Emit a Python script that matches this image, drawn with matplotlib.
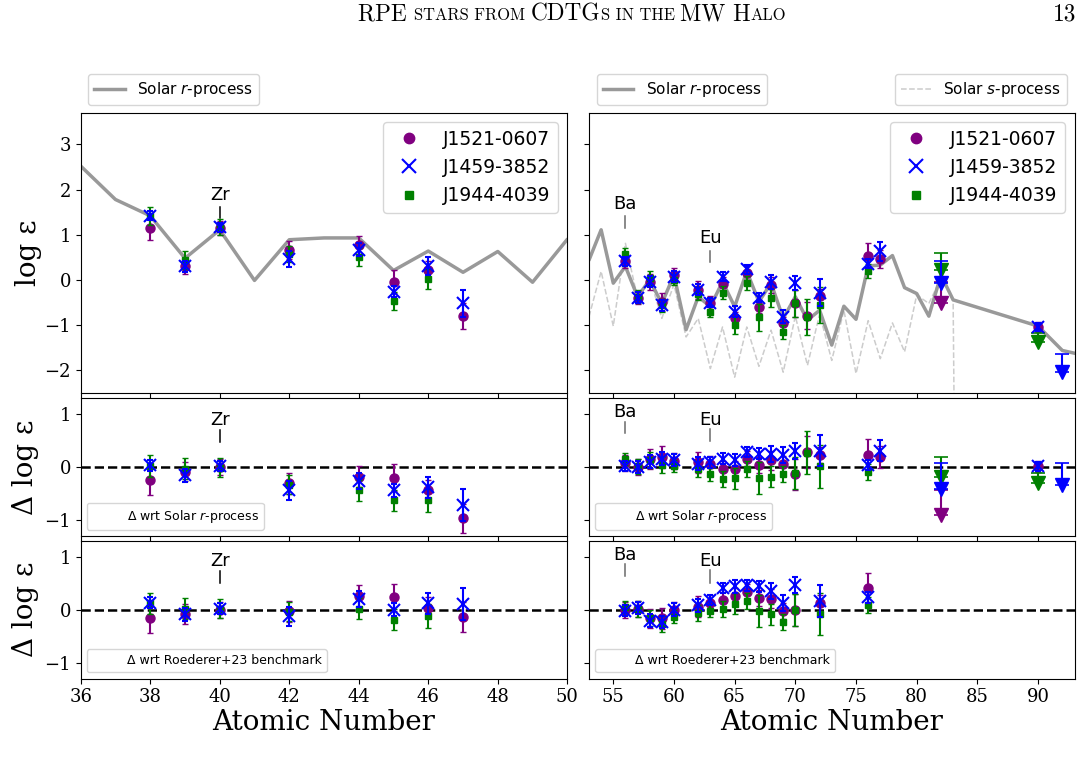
import matplotlib
matplotlib.use('Agg')
import matplotlib.pyplot as plt
import numpy as np
from matplotlib.lines import Line2D
from matplotlib.offsetbox import TextArea, HPacker, AnchoredOffsetbox

# ---------------- data ----------------
solar_r_Z = [36, 37, 38, 39, 40, 41, 42, 43, 44, 45, 46, 47, 48, 49, 50,
             53, 54, 55, 56, 57, 58, 59, 60, 61, 62, 63, 64, 65, 66, 67, 68,
             69, 70, 71, 72, 73, 74, 75, 76, 77, 78, 79, 80, 81, 82, 83, 90, 92, 94]
solar_r = [2.52, 1.78, 1.42, 0.48, 1.11, -0.01, 0.89, 0.93, 0.93, 0.21, 0.64, 0.17, 0.63, -0.05, 0.90,
           0.44, 1.11, -0.07, 0.30, -0.37, 0.00, -0.52, 0.11, -1.10, -0.37, -0.59, -0.04, -0.59, 0.19,
           -0.48, -0.07, -0.85, -0.37, -0.89, -0.67, -1.44, -0.58, -0.87, 0.31, 0.33, 0.54, -0.17,
           -0.30, -0.80, 0.11, -0.44, -1.02, -1.56, -1.68]

solar_s_Z = [53, 54, 55, 56, 57, 58, 59, 60, 61, 62, 63, 64, 65, 66, 67, 68, 69, 70, 71, 72,
             73, 74, 75, 76, 77, 78, 79, 80, 81, 82, 83, 84]
solar_s = [-0.81, 0.19, -1.02, 0.81, -0.40, 0.05, -0.85, -0.10, -1.26, -0.85, -1.96, -1.04, -2.15,
           -1.04, -1.91, -1.11, -2.04, -0.80, -1.89, -0.75, -1.78, -0.67, -2.07, -0.90, -1.74,
           -0.95, -1.59, -0.33, -0.52, 0.04, -0.45, -30.0]

star_names = ['J1521-0607', 'J1459-3852', 'J1944-4039']

# J1521-0607
s1_Z = [38, 39, 40, 42, 44, 45, 46, 47, 56, 57, 58, 59, 60, 62, 63, 64, 65, 66, 67, 68, 69, 70, 71, 72, 76, 77, 90]
s1_err = [0.27, 0.18, 0.15, 0.20, 0.20, 0.25, 0.20, 0.28, 0.15, 0.15, 0.18, 0.20, 0.15, 0.20, 0.15, 0.15,
          0.15, 0.15, 0.15, 0.18, 0.15, 0.30, 0.30, 0.15, 0.30, 0.20, 0.10]
s1_logeps = [1.15, 0.31, 1.15, 0.67, 0.78, -0.04, 0.21, -0.80, 0.41, -0.39, -0.04, -0.48, 0.11, -0.22, -0.50,
             -0.09, -0.85, 0.15, -0.59, -0.11, -0.96, -0.52, -0.79, -0.36, 0.52, 0.47, -1.04]
s1_dr = [-0.25, -0.09, 0.00, -0.31, -0.18, -0.20, -0.44, -0.97, 0.08, 0.00, 0.15, 0.19, 0.11, 0.09, 0.06,
         -0.03, -0.04, 0.16, 0.04, 0.13, 0.06, -0.14, 0.28, 0.22, 0.23, 0.19, 0.01]
s1_bZ = [38, 39, 40, 42, 44, 45, 46, 47, 56, 57, 58, 59, 60, 62, 63, 64, 65, 66, 67, 68, 69, 70, 72, 76]
s1_db = [-0.16, -0.08, 0.00, -0.03, 0.26, 0.23, 0.04, -0.14, 0.00, 0.02, -0.16, -0.16, 0.00, 0.06, 0.13,
         0.19, 0.25, 0.34, 0.22, 0.21, -0.02, 0.00, 0.13, 0.40]
s1_limZ = [82]
s1_lim = [-0.52]
s1_lim_dr = [-0.91]
s1_lim_up = [0.48]

# J1459-3852
s2_Z = [38, 39, 40, 42, 44, 45, 46, 47, 56, 57, 58, 59, 60, 62, 63, 64, 65, 66, 67, 68, 69, 70, 72, 76, 77, 90]
s2_err = [0.10, 0.12, 0.10, 0.18, 0.15, 0.12, 0.20, 0.30, 0.10, 0.12, 0.12, 0.12, 0.12, 0.12, 0.10, 0.10,
          0.12, 0.10, 0.10, 0.15, 0.15, 0.15, 0.30, 0.10, 0.20, 0.08]
s2_logeps = [1.42, 0.30, 1.17, 0.47, 0.67, -0.26, 0.31, -0.52, 0.41, -0.39, -0.04, -0.56, 0.07, -0.22, -0.50,
             0.07, -0.70, 0.24, -0.39, -0.04, -0.81, -0.07, -0.28, 0.36, 0.63, -1.04]
s2_dr = [0.03, -0.16, 0.02, -0.44, -0.27, -0.44, -0.38, -0.71, 0.02, 0.00, 0.10, 0.16, 0.13, 0.06, 0.09,
         0.16, 0.13, 0.28, 0.25, 0.24, 0.22, 0.31, 0.31, 0.04, 0.31, 0.01]
s2_bZ = [38, 39, 40, 42, 44, 45, 46, 47, 56, 57, 58, 59, 60, 62, 63, 64, 65, 66, 67, 68, 69, 70, 72, 76]
s2_db = [0.13, -0.09, 0.02, -0.12, 0.21, 0.00, 0.12, 0.11, -0.02, 0.03, -0.21, -0.23, 0.00, 0.08, 0.18,
         0.41, 0.44, 0.46, 0.44, 0.36, 0.13, 0.46, 0.17, 0.23]
s2_limZ = [82, 92]
s2_lim = [-0.07, -2.04]
s2_lim_dr = [-0.41, -0.33]
s2_lim_up = [0.48, 0.40]

# J1944-4039
s3_Z = [38, 39, 40, 42, 44, 45, 46, 56, 57, 58, 59, 60, 62, 63, 64, 65, 66, 67, 68, 69, 70, 71, 72, 76]
s3_err = [0.20, 0.20, 0.18, 0.18, 0.20, 0.20, 0.22, 0.12, 0.15, 0.15, 0.15, 0.12, 0.15, 0.12, 0.15, 0.20,
          0.15, 0.30, 0.20, 0.15, 0.30, 0.40, 0.40, 0.15]
s3_logeps = [1.42, 0.44, 1.17, 0.58, 0.50, -0.46, 0.02, 0.58, -0.37, 0.04, -0.56, 0.01, -0.30, -0.70, -0.28,
             -1.00, -0.07, -0.83, -0.39, -1.15, -0.52, -0.81, -0.56, 0.20]
s3_dr = [0.02, -0.03, -0.01, -0.33, -0.44, -0.63, -0.63, 0.15, 0.01, 0.13, 0.04, 0.02, -0.04, -0.14, -0.22,
         -0.21, -0.04, -0.20, -0.18, -0.13, -0.11, 0.27, 0.01, -0.09]
s3_bZ = [38, 39, 40, 42, 44, 45, 46, 56, 57, 58, 59, 60, 62, 63, 64, 65, 66, 67, 68, 69, 70, 72, 76]
s3_db = [0.12, 0.02, 0.02, -0.04, 0.02, -0.19, -0.12, 0.05, 0.02, -0.16, -0.27, -0.13, -0.06, -0.02, 0.02,
         0.11, 0.16, -0.02, -0.09, -0.23, 0.00, -0.08, 0.08]
s3_limZ = [82, 90]
s3_lim = [0.22, -1.37]
s3_lim_dr = [-0.19, -0.31]
s3_lim_up = [0.38, 0.20]

# ---------------- figure ----------------
plt.rcParams['font.family'] = 'DejaVu Sans'
W, H = 1084, 766
fig = plt.figure(figsize=(W / 100, H / 100), dpi=100)

def rect(x0, y0, x1, y1):
    return [x0 / W, 1 - y1 / H, (x1 - x0) / W, (y1 - y0) / H]

colL = (80.7, 567.3)
colR = (589.0, 1074.5)
rows = [(112.7, 393.0), (398.0, 536.0), (540.7, 678.7)]
axes = [[fig.add_axes(rect(c[0], r[0], c[1], r[1])) for c in (colL, colR)] for r in rows]

styles = [dict(color='purple', fmt='o', ms=6.5, mew=1, z=3),
          dict(color='blue', fmt='x', ms=8.5, mew=1.5, z=5),
          dict(color='green', fmt='s', ms=5, mew=1, z=4)]

stars = [
    (s1_Z, s1_err, s1_logeps, s1_dr, s1_bZ, s1_db, s1_limZ, s1_lim, s1_lim_dr, s1_lim_up),
    (s2_Z, s2_err, s2_logeps, s2_dr, s2_bZ, s2_db, s2_limZ, s2_lim, s2_lim_dr, s2_lim_up),
    (s3_Z, s3_err, s3_logeps, s3_dr, s3_bZ, s3_db, s3_limZ, s3_lim, s3_lim_dr, s3_lim_up),
]

def draw_points(ax, Z, vals, errs, st):
    ax.errorbar(Z, vals, yerr=errs, fmt=st['fmt'], color=st['color'], ms=st['ms'], mew=st['mew'],
                capsize=2.5, elinewidth=1.5, capthick=1.2, zorder=st['z'])

def draw_limits(ax, Z, vals, ups, st):
    if len(Z) == 0:
        return
    ax.errorbar(Z, vals, yerr=[np.zeros(len(ups)), ups], fmt='v', color=st['color'], ms=9.5,
                capsize=5, elinewidth=1.5, capthick=1.2, zorder=st['z'])

for (Z, err, le, dr, bZ, db, lZ, lv, ldr, lup), st in zip(stars, styles):
    errmap = dict(zip(Z, err))
    berr = [errmap[z] for z in bZ]
    for col in range(2):
        draw_points(axes[0][col], Z, le, err, st)
        draw_points(axes[1][col], Z, dr, err, st)
        draw_points(axes[2][col], bZ, db, berr, st)
        draw_limits(axes[0][col], lZ, lv, lup, st)
        draw_limits(axes[1][col], lZ, ldr, lup, st)

# solar curves
for col in range(2):
    axes[0][col].plot(solar_r_Z, solar_r, color='#999999', lw=2.5, zorder=1)
axes[0][1].plot(solar_s_Z, solar_s, color='#cccccc', lw=1.1, ls='--', zorder=0.9)

for r in (1, 2):
    for col in range(2):
        axes[r][col].axhline(0, color='k', ls='--', lw=1.8, zorder=2)

# axis limits / ticks
for r in range(3):
    axes[r][0].set_xlim(36, 50)
    axes[r][1].set_xlim(53, 93)
    axes[r][0].set_xticks(np.arange(36, 51, 2))
    axes[r][1].set_xticks(np.arange(55, 91, 5))
    for col in range(2):
        ax = axes[r][col]
        ax.tick_params(labelsize=13)
        for lab in ax.get_xticklabels() + ax.get_yticklabels():
            lab.set_family('DejaVu Serif')
        if r < 2:
            ax.tick_params(labelbottom=False)
        if col == 1:
            ax.tick_params(labelleft=False)
for col in range(2):
    axes[0][col].set_ylim(-2.5, 3.7)
    axes[0][col].set_yticks([-2, -1, 0, 1, 2, 3])
    for r in (1, 2):
        axes[r][col].set_ylim(-1.3, 1.3)
        axes[r][col].set_yticks([-1, 0, 1])

axes[0][0].set_ylabel('log ε', fontsize=20, family='DejaVu Serif', labelpad=2)
axes[1][0].set_ylabel('Δ log ε', fontsize=20, family='DejaVu Serif', labelpad=4)
axes[2][0].set_ylabel('Δ log ε', fontsize=20, family='DejaVu Serif', labelpad=4)
for col in range(2):
    axes[2][col].set_xlabel('Atomic Number', fontsize=20, family='DejaVu Serif', labelpad=2)

# element annotations
def mark(ax, x, ytext, y0, y1, label, color):
    ax.text(x, ytext, label, ha='center', va='center', fontsize=13)
    ax.plot([x, x], [y0, y1], color=color, lw=1.1)

mark(axes[0][0], 40, 1.89, 1.38, 1.62, 'Zr', 'k')
mark(axes[0][1], 56, 1.68, 1.15, 1.41, 'Ba', 'dimgray')
mark(axes[0][1], 63, 0.93, 0.39, 0.63, 'Eu', 'dimgray')
mark(axes[1][0], 40, 0.88, 0.48, 0.69, 'Zr', 'k')
mark(axes[1][1], 56, 1.04, 0.64, 0.85, 'Ba', 'dimgray')
mark(axes[1][1], 63, 0.88, 0.49, 0.72, 'Eu', 'dimgray')
mark(axes[2][0], 40, 0.91, 0.50, 0.73, 'Zr', 'k')
mark(axes[2][1], 56, 1.04, 0.64, 0.86, 'Ba', 'dimgray')
mark(axes[2][1], 63, 0.91, 0.50, 0.75, 'Eu', 'dimgray')

# legends
handles = [Line2D([], [], color=st['color'], marker=st['fmt'], ls='none', ms=st['ms'], mew=st['mew'])
           for st in styles]

rline = Line2D([], [], color='#999999', lw=2.5)
sline = Line2D([], [], color='#cccccc', lw=1.1, ls='--')
l1 = axes[0][0].legend([rline], ['Solar $r$-process'], loc='lower left', bbox_to_anchor=(0, 1), fontsize=11)
axes[0][0].add_artist(l1)
axes[0][0].legend(handles, star_names, loc='upper right', fontsize=13.5, markerscale=1.15)
l2 = axes[0][1].legend([rline], ['Solar $r$-process'], loc='lower left', bbox_to_anchor=(0, 1), fontsize=11)
l3 = axes[0][1].legend([sline], ['Solar $s$-process'], loc='lower right', bbox_to_anchor=(1, 1), fontsize=11)
axes[0][1].add_artist(l2)
axes[0][1].add_artist(l3)
axes[0][1].legend(handles, star_names, loc='upper right', fontsize=13.5, markerscale=1.15)

blank = Line2D([], [], color='none')
for col in range(2):
    axes[1][col].legend([blank], ['Δ wrt Solar $r$-process'], loc='lower left', fontsize=9)
    axes[2][col].legend([blank], ['Δ wrt Roederer+23 benchmark'], loc='lower left', fontsize=9)

# page header
parts = [("RPE ", 16.8), ("STARS FROM ", 11.9), ("CDTG", 16.8), ("S IN THE ", 11.9), ("MW H", 16.8), ("ALO", 11.9)]
boxes = [TextArea(t, textprops=dict(fontsize=s, family='cmr10')) for t, s in parts]
hp = HPacker(children=boxes, align='baseline', pad=0, sep=0)
ab = AnchoredOffsetbox(loc='center', child=hp, bbox_to_anchor=(572 / W, 1 - 14 / H),
                       bbox_transform=fig.transFigure, frameon=False, pad=0, borderpad=0)
fig.add_artist(ab)
fig.text(1076 / W, 1 - 14 / H, '13', ha='right', va='center', fontsize=16.8, family='cmr10')

fig.savefig('out.png', dpi=100)
